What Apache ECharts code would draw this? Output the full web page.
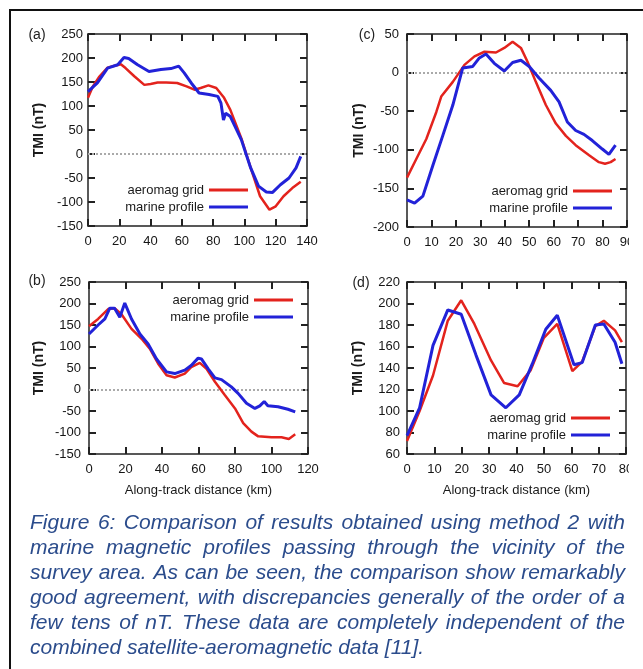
<!DOCTYPE html>
<html>
<head>
<meta charset="utf-8">
<script src="https://cdn.jsdelivr.net/npm/echarts@6/dist/echarts.min.js"></script>
<style>
  html, body { margin: 0; padding: 0; background: #fff; }
  #chart { width: 643px; height: 669px; }
</style>
</head>
<body>
<div id="chart"></div>
<script>
// datos: distancia a lo largo del track (km) y TMI (nT)
// panel (a)
const aAeroKm = [0, 3, 7, 12.5, 17, 21, 24, 29.6, 36, 40, 44.5, 50, 57, 63, 68, 72, 77, 82, 87, 91, 98, 104, 110, 116, 120, 125, 130.6, 136];
const aAeroTmi = [117, 140, 160, 180, 184, 187, 179, 162, 144, 146, 149, 149, 148, 141, 134, 137.5, 143, 137.5, 117, 92, 33, -29, -88, -116, -109, -88, -71, -58];
const aMarineKm = [0, 6, 12.5, 19, 23, 26, 31.7, 39, 46.6, 53, 58, 61.5, 66, 71, 77.4, 83, 85, 86.6, 88, 91, 98, 104, 109, 114, 118, 123, 128.5, 133, 136];
const aMarineTmi = [130, 148, 179, 186, 201, 199, 186, 172, 176, 178, 183, 169, 148, 127, 124, 120, 106, 71, 85, 78, 30, -29, -67, -79, -80, -64, -50, -29, -5];

// panel (b)
const bAeroKm = [0, 5, 10.5, 14, 17.8, 23.3, 28.8, 33.3, 37.9, 42.5, 47, 52.5, 56, 60.7, 64.4, 69, 74.4, 80, 84.5, 89, 92.7, 100, 105.5, 109.5, 113];
const bAeroTmi = [147, 164, 187, 189, 175, 141, 118, 95, 60, 33, 28, 37, 52, 62, 48, 18, -13, -44, -78, -98, -109, -111, -111, -115, -104];
const bMarineKm = [0, 5, 8.7, 11.4, 14, 16.9, 19.6, 23.3, 27.9, 32.4, 37, 42.5, 47, 52.5, 56, 59.8, 61.6, 65.3, 69, 72.6, 78, 81.7, 86.3, 90.9, 93.6, 96, 98, 103.6, 109, 113];
const bMarineTmi = [129, 150, 164, 189, 189, 168, 201, 164, 129, 106, 71, 41, 37, 45, 56, 73, 71, 48, 27, 23, 6, -9, -32, -44, -38, -28, -38, -40, -46, -52];

// panel (c)
const cAeroKm = [0, 3.8, 7.9, 12, 14, 18.75, 23.5, 27.6, 31.7, 36.4, 39.8, 43.2, 46.6, 49.3, 52.7, 56.8, 60.9, 65, 69, 74.5, 78.5, 81, 83.3, 85.3];
const cAeroTmi = [-136, -112, -86, -51, -31, -12, 10, 21, 27, 26, 32, 40, 32, 14, -12, -42, -66, -82, -94, -107, -116, -118, -116, -112];
const cMarineKm = [0, 3.1, 6.5, 10.6, 14.7, 18.75, 22.8, 26.9, 29.6, 32.3, 35.7, 39.8, 43.2, 46.6, 50, 54, 58.8, 62.2, 65.6, 69, 72.4, 75.8, 79.9, 82.6, 85.3];
const cMarineTmi = [-165, -169, -160, -120, -81, -42, 6, 8, 19, 24, 12, 2, 13, 16, 8, -7, -23, -38, -64, -75, -80, -88, -99, -106, -94];

// panel (d)
const dAeroKm = [0, 4.6, 9.5, 14.9, 19.8, 24.6, 30.7, 35.5, 40.4, 45.2, 50, 54.9, 60.4, 64, 68.8, 71.9, 76, 78.5];
const dAeroTmi = [72, 100, 133, 184, 203, 181, 147, 126, 123, 138, 168, 181, 137, 146, 179, 184, 175, 164];
const dMarineKm = [0, 4.6, 9.5, 14.9, 19.8, 25.2, 30.7, 36.1, 41, 45.8, 50.7, 54.9, 61, 64, 68.8, 71.9, 76, 78.5];
const dMarineTmi = [77, 103, 161, 194, 190, 152, 115, 103, 115, 144, 176, 189, 143, 145, 180, 181, 164, 144];

const seriesNames = ['aeromag grid', 'marine profile'];
const panelLabels = ['(a)', '(b)', '(c)', '(d)'];
const yAxisName = 'TMI (nT)';
const xAxisName = 'Along-track distance (km)';
const captionLines = [
  'Figure 6: Comparison of results obtained using method 2 with',
  'marine magnetic profiles passing through the vicinity of the',
  'survey area. As can be seen, the comparison show remarkably',
  'good agreement, with discrepancies generally of the order of a',
  'few tens of nT. These data are completely independent of the',
  'combined satellite-aeromagnetic data [11].'
];

const RED = '#e3231d';
const BLUE = '#2222d8';
const FONT = '"Liberation Sans", Arial, sans-serif';

function zip(xs, ys) { return xs.map((x, i) => [x, ys[i]]); }

// configuracion de cada panel: a, b, c, d
const panels = [
  { grid: { left: 88, top: 34, width: 219, height: 192 }, x: [0, 140, 20], y: [-150, 250, 50],
    aero: zip(aAeroKm, aAeroTmi), marine: zip(aMarineKm, aMarineTmi), zero: true, xname: false,
    labelMargin: 5, nameGap: 42, legend: { right: 395, top: 183 }, tag: [37, 35] },
  { grid: { left: 89, top: 282, width: 219, height: 172 }, x: [0, 120, 20], y: [-150, 250, 50],
    aero: zip(bAeroKm, bAeroTmi), marine: zip(bMarineKm, bMarineTmi), zero: true, xname: true,
    labelMargin: 8, nameGap: 43, legend: { right: 350, top: 293 }, tag: [37, 281] },
  { grid: { left: 407, top: 34, width: 220, height: 193 }, x: [0, 90, 10], y: [-200, 50, 50],
    aero: zip(cAeroKm, cAeroTmi), marine: zip(cMarineKm, cMarineTmi), zero: true, xname: false,
    labelMargin: 8, nameGap: 41, legend: { right: 31, top: 184 }, tag: [367, 35] },
  { grid: { left: 407, top: 282, width: 219, height: 172 }, x: [0, 80, 10], y: [60, 220, 20],
    aero: zip(dAeroKm, dAeroTmi), marine: zip(dMarineKm, dMarineTmi), zero: false, xname: true,
    labelMargin: 7, nameGap: 42, legend: { right: 33, top: 411 }, tag: [361, 283] }
];

const axisLine = { show: true, onZero: false, lineStyle: { color: '#222', width: 1.5 } };
const axisTick = { show: true, inside: true, length: 7, lineStyle: { color: '#222', width: 2 } };
const labelStyle = { color: '#151515', fontSize: 13, fontFamily: FONT };

const grids = [], xAxes = [], yAxes = [], series = [], legends = [], graphics = [];

panels.forEach((p, g) => {
  grids.push(p.grid);
  // eje x inferior con etiquetas y superior solo con marcas
  xAxes.push({
    type: 'value', gridIndex: g, position: 'bottom', min: p.x[0], max: p.x[1], interval: p.x[2],
    axisLine, axisTick, splitLine: { show: false },
    axisLabel: Object.assign({ margin: 9, showMinLabel: true, showMaxLabel: true }, labelStyle),
    name: p.xname ? xAxisName : '', nameLocation: 'middle', nameGap: 30,
    nameTextStyle: { color: '#1a1a1a', fontSize: 13, fontFamily: FONT }
  });
  xAxes.push({
    type: 'value', gridIndex: g, position: 'top', min: p.x[0], max: p.x[1], interval: p.x[2],
    axisLine, axisTick, splitLine: { show: false }, axisLabel: { show: false }
  });
  yAxes.push({
    type: 'value', gridIndex: g, position: 'left', min: p.y[0], max: p.y[1], interval: p.y[2],
    axisLine, axisTick, splitLine: { show: false },
    axisLabel: Object.assign({ margin: p.labelMargin, showMinLabel: true, showMaxLabel: true }, labelStyle),
    name: yAxisName, nameLocation: 'middle', nameRotate: 90, nameGap: p.nameGap,
    nameTextStyle: { color: '#1a1a1a', fontSize: 14, fontWeight: 'bold', fontFamily: FONT }
  });
  yAxes.push({
    type: 'value', gridIndex: g, position: 'right', min: p.y[0], max: p.y[1], interval: p.y[2],
    axisLine, axisTick, splitLine: { show: false }, axisLabel: { show: false }
  });

  const red = {
    name: seriesNames[0], type: 'line', xAxisIndex: 2 * g, yAxisIndex: 2 * g,
    data: p.aero, showSymbol: false, z: 3,
    lineStyle: { color: RED, width: 2.5 }, itemStyle: { color: RED }
  };
  if (p.zero) {
    red.markLine = {
      silent: true, symbol: 'none', label: { show: false }, z: 1,
      lineStyle: { color: '#aaa', type: [2, 2], width: 2 },
      data: [{ yAxis: 0 }]
    };
  }
  series.push(red);
  series.push({
    name: seriesNames[1], type: 'line', xAxisIndex: 2 * g, yAxisIndex: 2 * g,
    data: p.marine, showSymbol: false, z: 4,
    lineStyle: { color: BLUE, width: 3 }, itemStyle: { color: BLUE }
  });

  legends.push({
    data: seriesNames, orient: 'vertical', align: 'right', icon: 'rect',
    right: p.legend.right, top: p.legend.top, padding: 0,
    itemWidth: 39, itemHeight: 3, itemGap: 3, selectedMode: false,
    textStyle: { color: '#1a1a1a', fontSize: 13, fontFamily: FONT, lineHeight: 14 }
  });

  graphics.push({
    type: 'text', x: p.tag[0], y: p.tag[1], z: 10,
    style: { text: panelLabels[g], fill: '#222', fontSize: 14, fontFamily: FONT,
             textAlign: 'center', textVerticalAlign: 'middle' }
  });
});

// pie de figura justificado
const capLeft = 30, capRight = 625, capTop = 523, capStep = 25, capSize = 21;
const ctx = document.createElement('canvas').getContext('2d');
ctx.font = 'italic ' + capSize + 'px ' + FONT;
captionLines.forEach((line, i) => {
  const words = line.split(' ');
  const widths = words.map(w => ctx.measureText(w).width);
  const total = widths.reduce((s, w) => s + w, 0);
  const last = i === captionLines.length - 1;
  const gap = last ? ctx.measureText(' ').width : (capRight - capLeft - total) / (words.length - 1);
  let x = capLeft;
  words.forEach((w, k) => {
    graphics.push({
      type: 'text', x: x, y: capTop + i * capStep, z: 10,
      style: { text: w, fill: '#2b4c8c', fontSize: capSize, fontStyle: 'italic', fontFamily: FONT,
               textAlign: 'left', textVerticalAlign: 'middle' }
    });
    x += widths[k] + gap;
  });
});

// recorte del borde derecho como en la imagen original
graphics.push({ type: 'rect', z: 20, shape: { x: 629, y: 14, width: 20, height: 660 },
                style: { fill: '#fff' } });
// marco de la figura
graphics.push({ type: 'rect', z: 30, shape: { x: 10, y: 10, width: 700, height: 700 },
                style: { fill: 'none', stroke: '#111', lineWidth: 2 } });

const chart = echarts.init(document.getElementById('chart'));
chart.setOption({
  backgroundColor: '#ffffff',
  animation: false,
  grid: grids,
  xAxis: xAxes,
  yAxis: yAxes,
  legend: legends,
  series: series,
  graphic: graphics
});
window.onresize = function () { chart.resize(); };
</script>
</body>
</html>
